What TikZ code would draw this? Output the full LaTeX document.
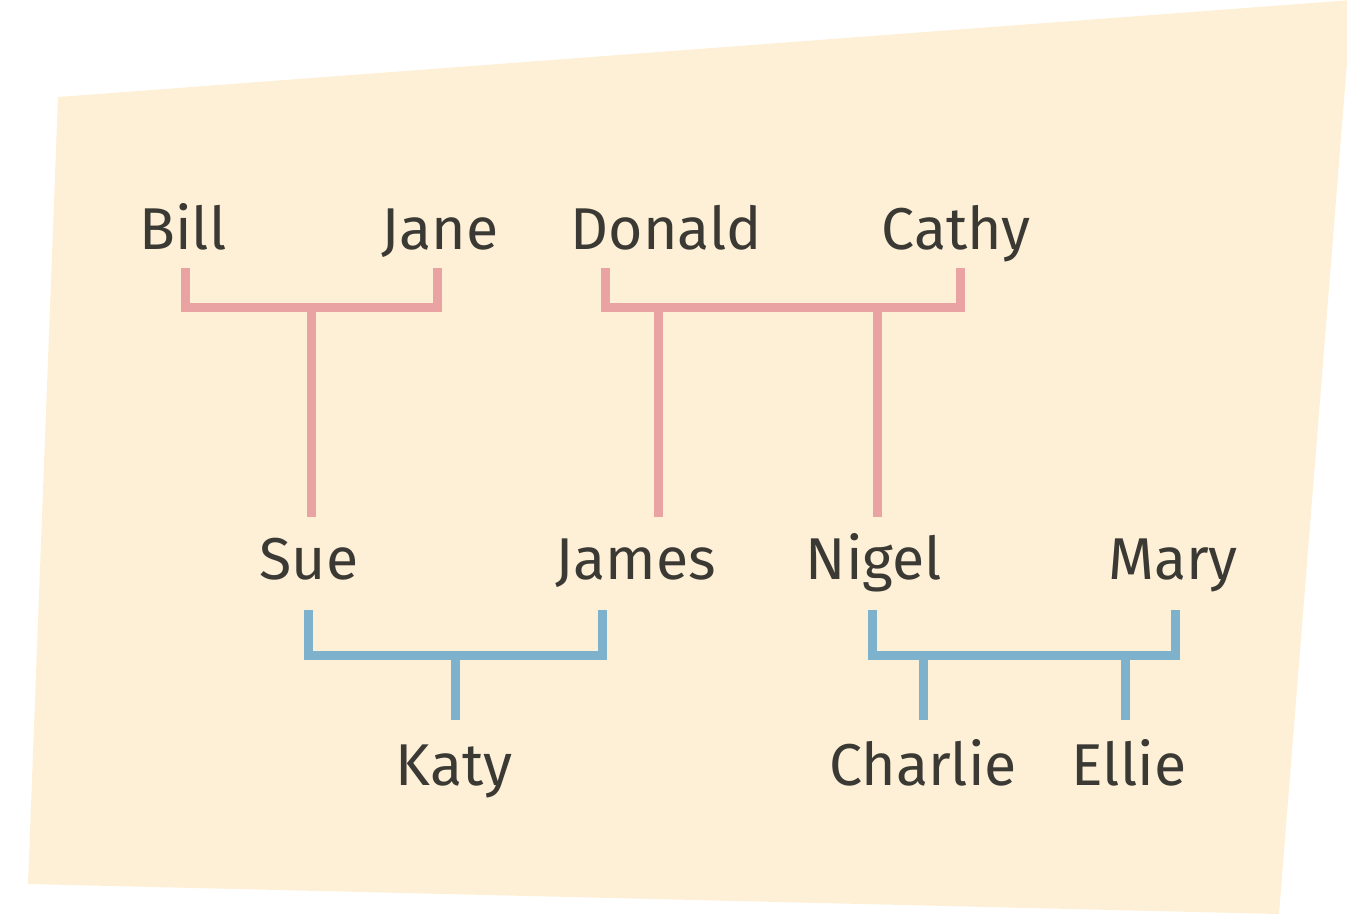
\documentclass[tikz,border=0pt]{standalone}
\usepackage{fontspec}
\setmainfont{Fira Sans}
\definecolor{bgfill}{HTML}{FEF0D7}
\definecolor{pinkline}{HTML}{E9A3A3}
\definecolor{blueline}{HTML}{7DB1CC}
\definecolor{txt}{HTML}{3B3934}
\begin{document}
\begin{tikzpicture}[x=1pt,y=-1pt,
  person/.style={anchor=base,text=txt,inner sep=0pt,font=\fontsize{59}{62}\selectfont},
  pinkbar/.style={draw=pinkline,line width=9pt,line join=miter,line cap=butt},
  bluebar/.style={draw=blueline,line width=9pt,line join=miter,line cap=butt}]
\useasboundingbox (0,0) rectangle (1347,914);
\begin{scope}
\clip (0,0) rectangle (1347,914);
\fill[bgfill] (58,97) -- (1352,0) -- (1279,914) -- (28,884) -- cycle;
\end{scope}
% names
\node[person] (bill) at (183,249) {Bill};
\node[person] (jane) at (440,249) {Jane};
\node[person] (donald) at (666,249) {Donald};
\node[person] (cathy) at (956,249) {Cathy};
\node[person] (sue) at (309,579) {Sue};
\node[person] (james) at (636,579) {James};
\node[person] (nigel) at (874,579) {Nigel};
\node[person] (mary) at (1173,579) {Mary};
\node[person] (katy) at (454,785) {Katy};
\node[person] (charlie) at (923,785) {Charlie};
\node[person] (ellie) at (1129,785) {Ellie};
% pink brackets
\coordinate (bj1) at (185,268);
\coordinate (bj2) at (437,268);
\coordinate (dc1) at (605,268);
\coordinate (dc2) at (960,268);
\draw[pinkbar] (bj1) -- (185,307) -- (437,307) -- (bj2);
\draw[pinkbar] (dc1) -- (605,307) -- (960,307) -- (dc2);
\coordinate (sueTop) at (311,517);
\coordinate (jamesTop) at (658,517);
\coordinate (nigelTop) at (877,517);
\draw[pinkbar] (311,307) -- (sueTop);
\draw[pinkbar] (658,307) -- (jamesTop);
\draw[pinkbar] (877,307) -- (nigelTop);
% blue brackets
\coordinate (sj1) at (308,610);
\coordinate (sj2) at (602,610);
\coordinate (nm1) at (872,610);
\coordinate (nm2) at (1175,610);
\draw[bluebar] (sj1) -- (308,655) -- (602,655) -- (sj2);
\draw[bluebar] (nm1) -- (872,655) -- (1175,655) -- (nm2);
\coordinate (katyTop) at (455,720);
\coordinate (charlieTop) at (923,720);
\coordinate (ellieTop) at (1125,720);
\draw[bluebar] (455,655) -- (katyTop);
\draw[bluebar] (923,655) -- (charlieTop);
\draw[bluebar] (1125,655) -- (ellieTop);
\end{tikzpicture}
\end{document}
